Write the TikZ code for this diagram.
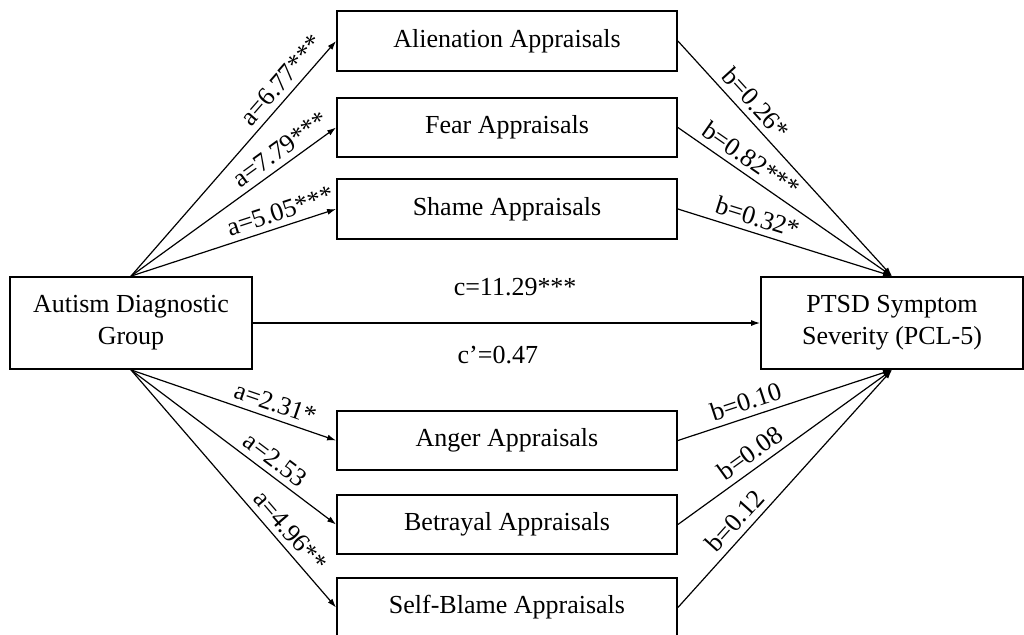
\documentclass[tikz,border=0pt]{standalone}
\usepackage{fontspec}
\setmainfont{Liberation Serif}
\usetikzlibrary{arrows.meta}
\begin{document}
\begin{tikzpicture}[x=0.5pt,y=-0.5pt,
  box/.style={draw, line width=0.9pt, minimum width=170pt, minimum height=29.5pt,
    inner sep=0pt, align=center, font=\fontsize{13}{16}\selectfont},
  link/.style={line width=0.6pt, -{Latex[length=4.5pt,width=3pt]}},
  coef/.style={font=\fontsize{13}{16}\selectfont, sloped, above=2pt, inner sep=1pt},
  plain/.style={font=\fontsize{13}{16}\selectfont}
]
\useasboundingbox (0,0) rectangle (1024,634);

% mediators
\node[box, minimum height=30pt] (ali)   at (507,41)    {Alienation Appraisals};
\node[box]                      (fear)  at (507,127.5) {Fear Appraisals};
\node[box, minimum height=30pt] (shame) at (507,209)   {Shame Appraisals};
\node[box]                      (anger) at (507,440.5) {Anger Appraisals};
\node[box]                      (betr)  at (507,524.5) {Betrayal Appraisals};
\node[box]                      (self)  at (507,607.5) {Self-Blame Appraisals};

% predictor and outcome
\node[box, minimum width=121pt, minimum height=46pt] (asd)  at (131,323) {Autism Diagnostic\\Group};
\node[box, minimum width=131pt, minimum height=46pt] (ptsd) at (892,323) {PTSD Symptom\\Severity (PCL-5)};

% direct path
\draw[link] (asd) --
  node[plain, pos=0.517, yshift=18pt] {c=11.29***}
  node[plain, pos=0.483, yshift=-16pt] {c’=0.47} (ptsd);

% a paths
\draw[link] (asd.north) -- node[coef, pos=0.79]  {a=6.77***} (ali.west);
\draw[link] (asd.north) -- node[coef, pos=0.77]  {a=7.79***} (fear.west);
\draw[link] (asd.north) -- node[coef, pos=0.75]  {a=5.05***} (shame.west);
\draw[link] (asd.south) -- node[coef, pos=0.68]  {a=2.31*}   (anger.west);
\draw[link] (asd.south) -- node[coef, pos=0.66]  {a=2.53}    (betr.west);
\draw[link] (asd.south) -- node[coef, pos=0.72]  {a=4.96**}  (self.west);

% b paths
\draw[link] (ali.east)   -- node[coef, pos=0.31] {b=0.26*}   (ptsd.north);
\draw[link] (fear.east)  -- node[coef, pos=0.30] {b=0.82***} (ptsd.north);
\draw[link] (shame.east) -- node[coef, pos=0.35] {b=0.32*}   (ptsd.north);
\draw[link] (anger.east) -- node[coef, pos=0.34] {b=0.10}    (ptsd.south);
\draw[link] (betr.east)  -- node[coef, pos=0.38] {b=0.08}    (ptsd.south);
\draw[link] (self.east)  -- node[coef, pos=0.32] {b=0.12}    (ptsd.south);
\end{tikzpicture}
\end{document}
